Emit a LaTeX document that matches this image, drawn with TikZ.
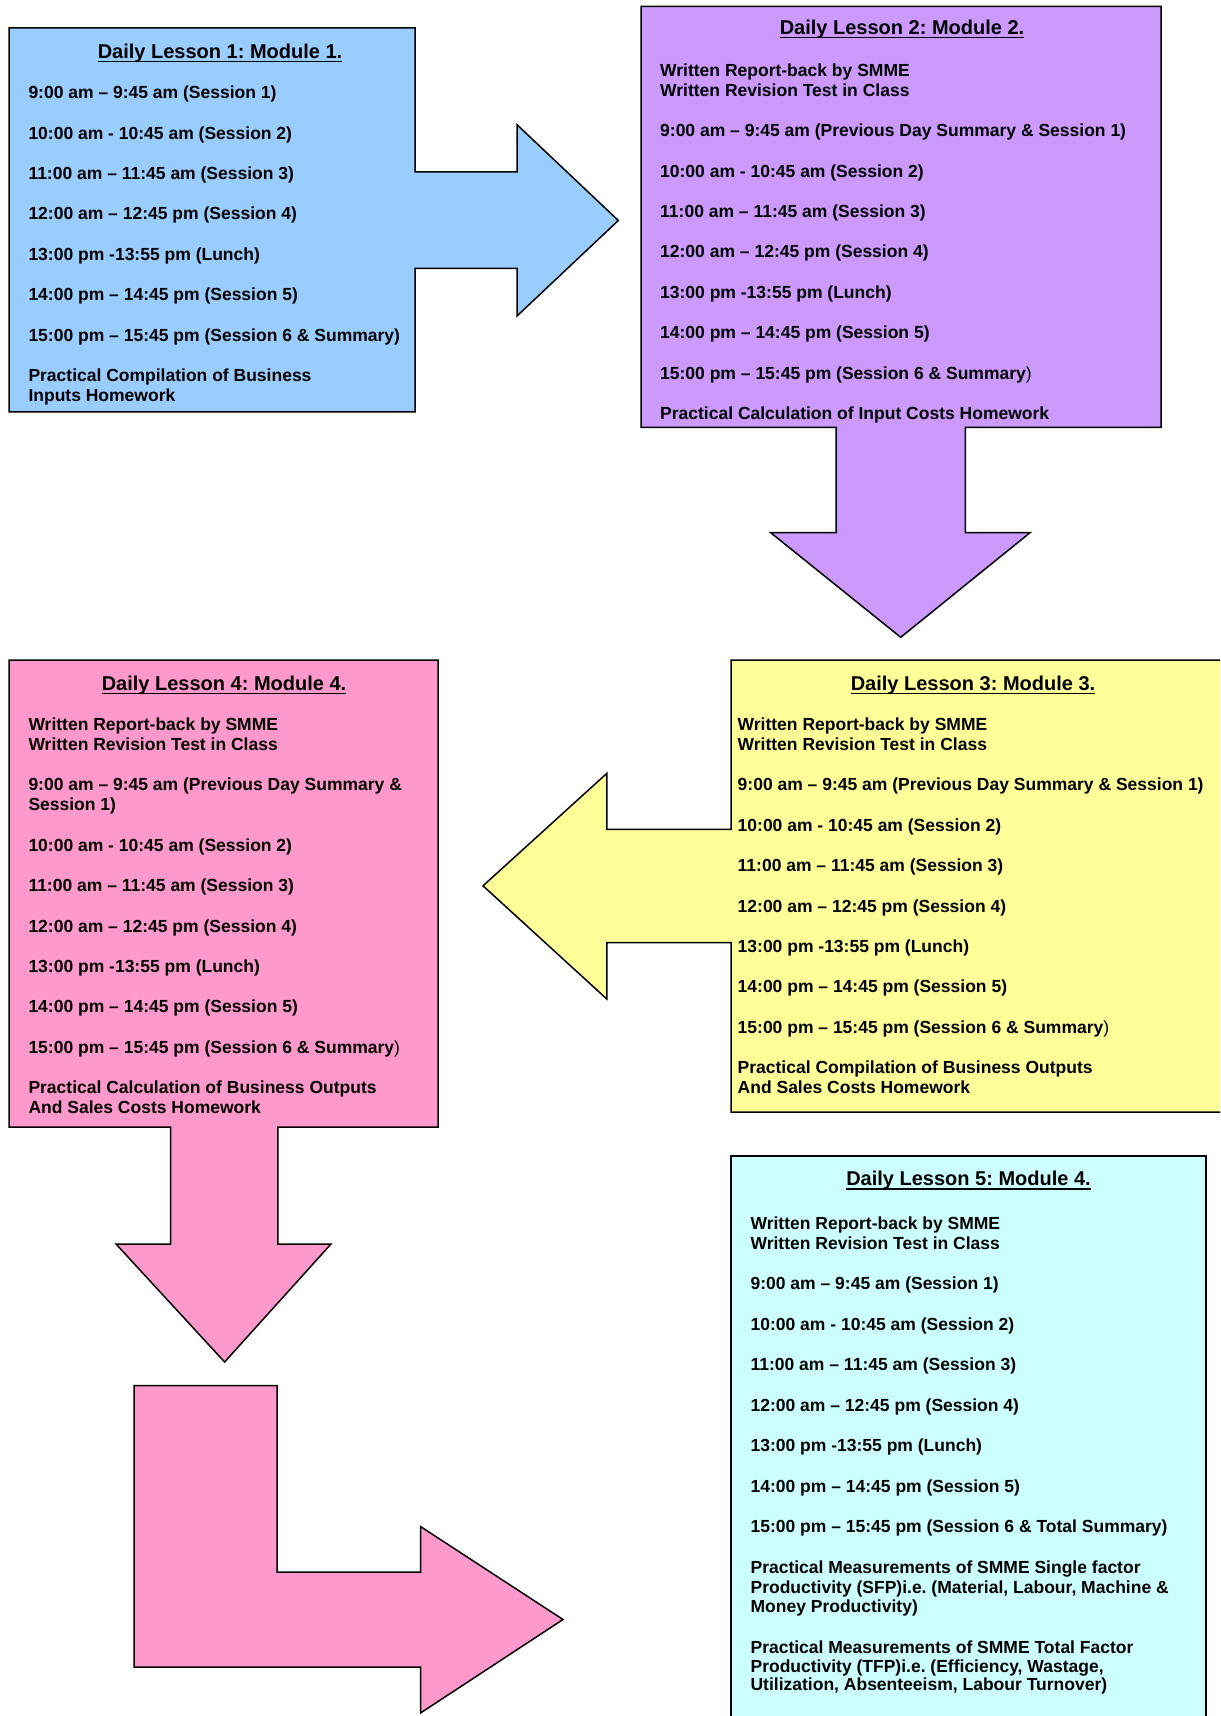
\documentclass[tikz,border=0pt]{standalone}
\usepackage{fontspec}
\setmainfont{Liberation Sans}
\definecolor{lblue}{HTML}{99CCFF}
\definecolor{lpurple}{HTML}{CC99FF}
\definecolor{lyellow}{HTML}{FFFF99}
\definecolor{lpink}{HTML}{FF99CC}
\definecolor{lcyan}{HTML}{CCFFFF}
\newcommand\myul[1]{\setbox0\hbox{#1}\rlap{\copy0}\rule[-2pt]{\wd0}{0.7pt}}
\newcommand\thinpar{{\mdseries )}}
\tikzset{
  shapebox/.style={draw=black, line width=0.75pt, line join=miter},
  txt/.style={inner sep=0pt, outer sep=0pt, anchor=base west, font=\fontsize{8.75pt}{10pt}\selectfont\bfseries\frenchspacing},
  ttl/.style={inner sep=0pt, outer sep=0pt, anchor=base, font=\fontsize{10pt}{12pt}\selectfont\bfseries\frenchspacing}
}
\begin{document}
\frenchspacing
\begin{tikzpicture}[x=0.5pt,y=-0.5pt]
\useasboundingbox (0,0) rectangle (1220,1716);
\clip (0,0) rectangle (1220,1716);
% Box 1 with right arrow
\draw[shapebox, fill=lblue] (9,28) -- (415,28) -- (415,172) -- (517,172) -- (517,124.7) -- (618.3,220.5) -- (517,316) -- (517,268.3) -- (415,268.3) -- (415,412) -- (9,412) -- cycle;
% Box 2 with down arrow
\draw[shapebox, fill=lpurple] (641,6.5) -- (1161,6.5) -- (1161,427.3) -- (965.3,427.3) -- (965.3,532.7) -- (1030,532.7) -- (900.7,637.3) -- (770.7,532.7) -- (836,532.7) -- (836,427.3) -- (641,427.3) -- cycle;
% Box 3 with left arrow
\draw[shapebox, fill=lyellow] (1240,660) -- (731,660) -- (731,829.4) -- (606.8,829.4) -- (606.8,773.4) -- (483,885.8) -- (606.8,999) -- (606.8,942.5) -- (731,942.5) -- (731,1112) -- (1240,1112) -- cycle;
% Box 4 with down arrow
\draw[shapebox, fill=lpink] (9,660) -- (438,660) -- (438,1127) -- (277.8,1127) -- (277.8,1244) -- (331,1244) -- (224.6,1362) -- (116,1244) -- (170.6,1244) -- (170.6,1127) -- (9,1127) -- cycle;
% L-shaped arrow
\draw[shapebox, fill=lpink] (134,1385.5) -- (277,1385.5) -- (277,1572) -- (420.5,1572) -- (420.5,1526.5) -- (563,1619.5) -- (420.5,1713) -- (420.5,1667) -- (134,1667) -- cycle;
% Box 5
\draw[shapebox, fill=lcyan] (731,1156) -- (1206,1156) -- (1206,1740) -- (731,1740) -- cycle;

% ---- Box 1 text
\node[ttl] (t1) at (220,58.5) {\myul{Daily Lesson 1: Module 1.}};
\node[txt] (a1) at (28.5,98.8) {9:00 am – 9:45 am (Session 1)};
\node[txt] (a2) at (28.5,139.2) {10:00 am - 10:45 am (Session 2)};
\node[txt] (a3) at (28.5,179.6) {11:00 am – 11:45 am (Session 3)};
\node[txt] (a4) at (28.5,220.0) {12:00 am – 12:45 pm (Session 4)};
\node[txt] (a5) at (28.5,260.4) {13:00 pm -13:55 pm (Lunch)};
\node[txt] (a6) at (28.5,300.8) {14:00 pm – 14:45 pm (Session 5)};
\node[txt] (a7) at (28.5,341.2) {15:00 pm – 15:45 pm (Session 6 \& Summary)};
\node[txt] (a8) at (28.5,381.5) {Practical Compilation of Business};
\node[txt] (a9) at (28.5,401.5) {Inputs Homework};

% ---- Box 2 text
\node[ttl] (t2) at (902,34.5) {\myul{Daily Lesson 2: Module 2.}};
\node[txt] (b1) at (660.2,76.5) {Written Report-back by SMME};
\node[txt] (b2) at (660.2,96.5) {Written Revision Test in Class};
\node[txt] (b3) at (660.2,136.8) {9:00 am – 9:45 am (Previous Day Summary \& Session 1)};
\node[txt] (b4) at (660.2,177.2) {10:00 am - 10:45 am (Session 2)};
\node[txt] (b5) at (660.2,217.6) {11:00 am – 11:45 am (Session 3)};
\node[txt] (b6) at (660.2,258.0) {12:00 am – 12:45 pm (Session 4)};
\node[txt] (b7) at (660.2,298.4) {13:00 pm -13:55 pm (Lunch)};
\node[txt] (b8) at (660.2,338.8) {14:00 pm – 14:45 pm (Session 5)};
\node[txt] (b9) at (660.2,379.2) {15:00 pm – 15:45 pm (Session 6 \& Summary\thinpar};
\node[txt] (b10) at (660.2,419.6) {Practical Calculation of Input Costs Homework};

% ---- Box 3 text
\node[ttl] (t3) at (973,690) {\myul{Daily Lesson 3: Module 3.}};
\node[txt] (c1) at (737.7,730.5) {Written Report-back by SMME};
\node[txt] (c2) at (737.7,750.5) {Written Revision Test in Class};
\node[txt] (c3) at (737.7,790.8) {9:00 am – 9:45 am (Previous Day Summary \& Session 1)};
\node[txt] (c4) at (737.7,831.2) {10:00 am - 10:45 am (Session 2)};
\node[txt] (c5) at (737.7,871.6) {11:00 am – 11:45 am (Session 3)};
\node[txt] (c6) at (737.7,912.0) {12:00 am – 12:45 pm (Session 4)};
\node[txt] (c7) at (737.7,952.4) {13:00 pm -13:55 pm (Lunch)};
\node[txt] (c8) at (737.7,992.8) {14:00 pm – 14:45 pm (Session 5)};
\node[txt] (c9) at (737.7,1033.2) {15:00 pm – 15:45 pm (Session 6 \& Summary\thinpar};
\node[txt] (c10) at (737.7,1073.6) {Practical Compilation of Business Outputs};
\node[txt] (c11) at (737.7,1093.6) {And Sales Costs Homework};

% ---- Box 4 text
\node[ttl] (t4) at (224,690) {\myul{Daily Lesson 4: Module 4.}};
\node[txt] (d1) at (28.5,730.5) {Written Report-back by SMME};
\node[txt] (d2) at (28.5,750.5) {Written Revision Test in Class};
\node[txt] (d3) at (28.5,790.8) {9:00 am – 9:45 am (Previous Day Summary \&};
\node[txt] (d4) at (28.5,810.8) {Session 1)};
\node[txt] (d5) at (28.5,851.2) {10:00 am - 10:45 am (Session 2)};
\node[txt] (d6) at (28.5,891.6) {11:00 am – 11:45 am (Session 3)};
\node[txt] (d7) at (28.5,932.0) {12:00 am – 12:45 pm (Session 4)};
\node[txt] (d8) at (28.5,972.4) {13:00 pm -13:55 pm (Lunch)};
\node[txt] (d9) at (28.5,1012.8) {14:00 pm – 14:45 pm (Session 5)};
\node[txt] (d10) at (28.5,1053.2) {15:00 pm – 15:45 pm (Session 6 \& Summary\thinpar};
\node[txt] (d11) at (28.5,1093.6) {Practical Calculation of Business Outputs};
\node[txt] (d12) at (28.5,1113.6) {And Sales Costs Homework};

% ---- Box 5 text
\node[ttl] (t5) at (968.5,1185.7) {\myul{Daily Lesson 5: Module 4.}};
\node[txt] (e1) at (750.6,1229.6) {Written Report-back by SMME};
\node[txt] (e2) at (750.6,1249.4) {Written Revision Test in Class};
\node[txt] (e3) at (750.6,1289.8) {9:00 am – 9:45 am (Session 1)};
\node[txt] (e4) at (750.6,1330.3) {10:00 am - 10:45 am (Session 2)};
\node[txt] (e5) at (750.6,1370.8) {11:00 am – 11:45 am (Session 3)};
\node[txt] (e6) at (750.6,1411.3) {12:00 am – 12:45 pm (Session 4)};
\node[txt] (e7) at (750.6,1451.8) {13:00 pm -13:55 pm (Lunch)};
\node[txt] (e8) at (750.6,1492.3) {14:00 pm – 14:45 pm (Session 5)};
\node[txt] (e9) at (750.6,1532.5) {15:00 pm – 15:45 pm (Session 6 \& Total Summary)};
\node[txt] (e10) at (750.6,1573.5) {Practical Measurements of SMME Single factor};
\node[txt] (e11) at (750.6,1593.0) {Productivity (SFP)i.e. (Material, Labour, Machine \&};
\node[txt] (e12) at (750.6,1612.5) {Money Productivity)};
\node[txt] (e13) at (750.6,1653.3) {Practical Measurements of SMME Total Factor};
\node[txt] (e14) at (750.6,1672.0) {Productivity (TFP)i.e. (Efficiency, Wastage,};
\node[txt] (e15) at (750.6,1690.7) {Utilization, Absenteeism, Labour Turnover)};
\end{tikzpicture}
\end{document}
